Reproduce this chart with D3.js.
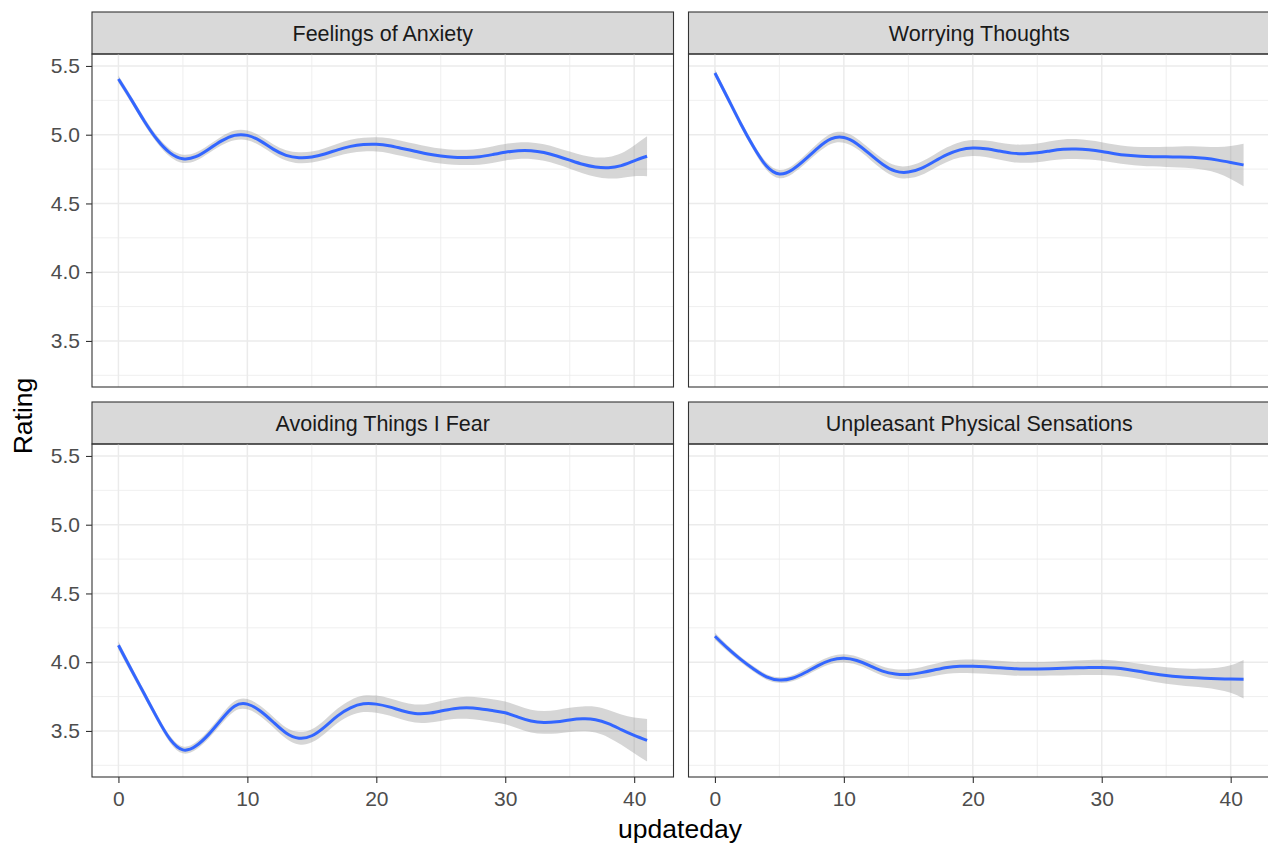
<!DOCTYPE html>
<html>
<head>
<meta charset="utf-8">
<script src="https://cdn.jsdelivr.net/npm/d3@7"></script>
<style>
  body { margin: 0; background: #fff; }
  svg { display: block; }
  text { font-family: "Liberation Sans", Arial, Helvetica, sans-serif; }
</style>
</head>
<body>
<svg id="plot" width="1268" height="848"></svg>
<script>
// facet titles
const facetTitles = ["Feelings of Anxiety", "Worrying Thoughts", "Avoiding Things I Fear", "Unpleasant Physical Sensations"];

// updateday values (x)
const days = [0, 1, 2, 3, 4, 5, 6, 7, 8, 9, 10, 11, 12, 13, 14, 15, 16, 17, 18, 19, 20,
  21, 22, 23, 24, 25, 26, 27, 28, 29, 30, 31, 32, 33, 34, 35, 36, 37, 38, 39, 40, 41];

// smoothed rating + half width of the confidence band
const anxietyFit = [5.405, 5.255, 5.10, 4.965, 4.868, 4.825, 4.84, 4.895, 4.955, 4.995, 4.995,
  4.955, 4.895, 4.85, 4.833, 4.838, 4.86, 4.89, 4.915, 4.928, 4.93,
  4.92, 4.90, 4.88, 4.86, 4.845, 4.836, 4.835, 4.84, 4.855, 4.872,
  4.884, 4.884, 4.87, 4.845, 4.815, 4.785, 4.765, 4.76, 4.775, 4.81, 4.843];
const anxietySe = [0.025, 0.025, 0.025, 0.025, 0.028, 0.03, 0.03, 0.03, 0.032, 0.035, 0.035,
  0.035, 0.035, 0.037, 0.04, 0.04, 0.042, 0.045, 0.048, 0.05, 0.052,
  0.054, 0.055, 0.055, 0.055, 0.055, 0.055, 0.056, 0.058, 0.06, 0.06,
  0.06, 0.06, 0.06, 0.06, 0.062, 0.065, 0.07, 0.078, 0.09, 0.112, 0.145];

const worryFit = [5.449, 5.265, 5.08, 4.91, 4.772, 4.714, 4.745, 4.82, 4.905, 4.97, 4.98,
  4.935, 4.86, 4.785, 4.735, 4.728, 4.755, 4.805, 4.855, 4.89, 4.903,
  4.898, 4.882, 4.866, 4.862, 4.868, 4.882, 4.894, 4.896, 4.89, 4.878,
  4.862, 4.85, 4.843, 4.84, 4.839, 4.838, 4.836, 4.828, 4.815, 4.798, 4.78];
const worrySe = [0.025, 0.025, 0.025, 0.025, 0.028, 0.03, 0.03, 0.032, 0.035, 0.037, 0.038,
  0.038, 0.038, 0.04, 0.042, 0.045, 0.048, 0.05, 0.053, 0.056, 0.058,
  0.06, 0.062, 0.064, 0.066, 0.068, 0.07, 0.072, 0.072, 0.07, 0.068,
  0.066, 0.066, 0.068, 0.07, 0.073, 0.076, 0.08, 0.085, 0.095, 0.12, 0.155];

const avoidFit = [4.123, 3.945, 3.77, 3.595, 3.44, 3.362, 3.39, 3.475, 3.585, 3.68, 3.695,
  3.645, 3.565, 3.485, 3.447, 3.465, 3.53, 3.61, 3.668, 3.697, 3.695,
  3.675, 3.647, 3.627, 3.628, 3.645, 3.662, 3.668, 3.662, 3.648, 3.632,
  3.60, 3.572, 3.562, 3.567, 3.58, 3.588, 3.582, 3.553, 3.51, 3.468, 3.432];
const avoidSe = [0.03, 0.028, 0.026, 0.025, 0.025, 0.025, 0.027, 0.03, 0.033, 0.036, 0.038,
  0.038, 0.038, 0.04, 0.045, 0.048, 0.05, 0.053, 0.056, 0.06, 0.062,
  0.063, 0.064, 0.066, 0.068, 0.072, 0.076, 0.08, 0.082, 0.083, 0.083,
  0.083, 0.083, 0.083, 0.085, 0.088, 0.09, 0.094, 0.1, 0.11, 0.13, 0.155];

const sensationFit = [4.189, 4.10, 4.02, 3.95, 3.893, 3.87, 3.883, 3.925, 3.975, 4.015, 4.028,
  4.012, 3.975, 3.935, 3.914, 3.911, 3.924, 3.943, 3.962, 3.97, 3.97,
  3.966, 3.96, 3.954, 3.951, 3.951, 3.953, 3.956, 3.959, 3.961, 3.962,
  3.958, 3.947, 3.932, 3.916, 3.903, 3.894, 3.888, 3.884, 3.88, 3.877, 3.876];
const sensationSe = [0.025, 0.022, 0.02, 0.02, 0.02, 0.02, 0.022, 0.025, 0.027, 0.028, 0.03,
  0.03, 0.031, 0.033, 0.035, 0.038, 0.04, 0.043, 0.046, 0.048, 0.05,
  0.05, 0.05, 0.05, 0.05, 0.05, 0.05, 0.052, 0.054, 0.055, 0.055,
  0.055, 0.055, 0.056, 0.058, 0.06, 0.062, 0.065, 0.07, 0.08, 0.1, 0.14];

const xTicks = [0, 10, 20, 30, 40];
const xMinorTicks = [5, 15, 25, 35];
const yTicks = [3.5, 4.0, 4.5, 5.0, 5.5];
const yMinorTicks = [3.25, 3.75, 4.25, 4.75, 5.25];

const series = [
  { title: facetTitles[0], fit: anxietyFit, se: anxietySe, col: 0, row: 0 },
  { title: facetTitles[1], fit: worryFit, se: worrySe, col: 1, row: 0 },
  { title: facetTitles[2], fit: avoidFit, se: avoidSe, col: 0, row: 1 },
  { title: facetTitles[3], fit: sensationFit, se: sensationSe, col: 1, row: 1 },
];

const plot = d3.select("#plot");
const panel = { width: 581.5, height: 333 };
const stripH = 42;
const colX = [92, 688.5];
const rowY = [54, 444];
const font = '"Liberation Sans", Arial, sans-serif';

const scale = {
  x: d3.scaleLinear([-2.05, 43.05], [0, panel.width]),
  y: d3.scaleLinear([3.165, 5.587], [panel.height, 0]),
};

plot.append("rect").attr("width", 1268).attr("height", 848).attr("fill", "#fff");

series.forEach((s) => {
  const g = plot.append("g").attr("transform", `translate(${colX[s.col]}, ${rowY[s.row]})`);
  const pts = days.map((d, i) => ({ x: d, y: s.fit[i], se: s.se[i] }));

  // strip
  g.append("rect")
    .attr("x", 0).attr("y", -stripH)
    .attr("width", panel.width).attr("height", stripH)
    .attr("fill", "#D9D9D9").attr("stroke", "#333").attr("stroke-width", 1.1);
  g.append("text")
    .attr("x", panel.width / 2).attr("y", -stripH / 2 + 7.5)
    .attr("text-anchor", "middle")
    .attr("font-size", 21.5).attr("fill", "#1A1A1A")
    .text(s.title);

  // grid
  const grid = g.append("g").attr("stroke", "#EBEBEB");
  grid.selectAll(".ymin").data(yMinorTicks).join("line")
    .attr("x1", 0).attr("x2", panel.width)
    .attr("y1", (d) => scale.y(d)).attr("y2", (d) => scale.y(d))
    .attr("stroke-width", 0.8);
  grid.selectAll(".xmin").data(xMinorTicks).join("line")
    .attr("y1", 0).attr("y2", panel.height)
    .attr("x1", (d) => scale.x(d)).attr("x2", (d) => scale.x(d))
    .attr("stroke-width", 0.8);
  grid.selectAll(".ymaj").data(yTicks).join("line")
    .attr("x1", 0).attr("x2", panel.width)
    .attr("y1", (d) => scale.y(d)).attr("y2", (d) => scale.y(d))
    .attr("stroke-width", 1.5);
  grid.selectAll(".xmaj").data(xTicks).join("line")
    .attr("y1", 0).attr("y2", panel.height)
    .attr("x1", (d) => scale.x(d)).attr("x2", (d) => scale.x(d))
    .attr("stroke-width", 1.5);

  // confidence band and smooth
  const band = d3.area()
    .x((d) => scale.x(d.x))
    .y0((d) => scale.y(d.y - d.se))
    .y1((d) => scale.y(d.y + d.se))
    .curve(d3.curveNatural);
  const line = d3.line()
    .x((d) => scale.x(d.x))
    .y((d) => scale.y(d.y))
    .curve(d3.curveNatural);
  g.append("path").datum(pts).attr("d", band)
    .attr("fill", "#999999").attr("fill-opacity", 0.4);
  g.append("path").datum(pts).attr("d", line)
    .attr("fill", "none").attr("stroke", "#3366FF").attr("stroke-width", 3);

  // border
  g.append("rect")
    .attr("width", panel.width).attr("height", panel.height)
    .attr("fill", "none").attr("stroke", "#333").attr("stroke-width", 1.1);

  if (s.col === 0) {
    const ax = g.append("g").call(
      d3.axisLeft(scale.y).tickValues(yTicks).tickFormat(d3.format(".1f")).tickSize(6).tickPadding(6)
    );
    ax.select(".domain").remove();
    ax.selectAll("line").attr("stroke", "#333").attr("stroke-width", 1.1);
    ax.selectAll("text").attr("font-size", 21).attr("fill", "#4D4D4D").attr("font-family", font);
  }
  if (s.row === 1) {
    const ax = g.append("g").attr("transform", `translate(0, ${panel.height})`).call(
      d3.axisBottom(scale.x).tickValues(xTicks).tickSize(6).tickPadding(8)
    );
    ax.select(".domain").remove();
    ax.selectAll("line").attr("stroke", "#333").attr("stroke-width", 1.1);
    ax.selectAll("text").attr("font-size", 21).attr("fill", "#4D4D4D").attr("font-family", font);
  }
});

// axis titles
plot.append("text")
  .attr("transform", "translate(32, 416) rotate(-90)")
  .attr("text-anchor", "middle")
  .attr("font-size", 26.5).attr("fill", "#000")
  .text("Rating");
plot.append("text")
  .attr("x", 680).attr("y", 838)
  .attr("text-anchor", "middle")
  .attr("font-size", 26.5).attr("fill", "#000")
  .text("updateday");
</script>
</body>
</html>
